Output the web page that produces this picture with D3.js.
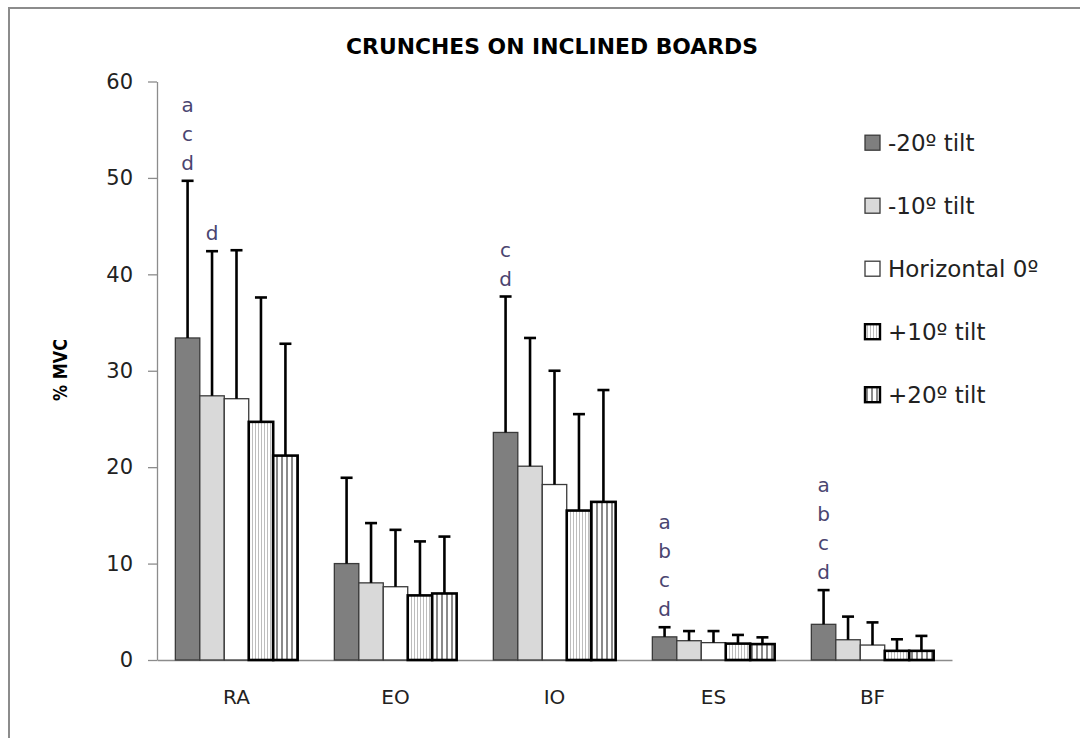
<!DOCTYPE html>
<html>
<head>
<meta charset="utf-8">
<script src="https://cdn.jsdelivr.net/npm/d3@7"></script>
<style>
  html, body { margin: 0; padding: 0; background: #fff; }
  svg { display: block; font-family: "DejaVu Sans", sans-serif; }
</style>
</head>
<body>
<svg id="chart" width="1080" height="738"></svg>
<script>
// ---- data ----
const categories = ["RA", "EO", "IO", "ES", "BF"];
const seriesNames = ["-20º tilt", "-10º tilt", "Horizontal 0º", "+10º tilt", "+20º tilt"];
// mean %MVC per series for each category
const tiltMinus20 = [33.4, 10.0, 23.6, 2.4, 3.7];
const tiltMinus10 = [27.4, 8.0, 20.1, 2.0, 2.1];
const horizontal0 = [27.1, 7.6, 18.2, 1.8, 1.55];
const tiltPlus10  = [24.7, 6.7, 15.5, 1.7, 0.95];
const tiltPlus20  = [21.2, 6.9, 16.4, 1.65, 0.95];
// standard deviations (upper error bars)
const sdMinus20 = [16.3, 8.9, 14.1, 1.0, 3.55];
const sdMinus10 = [15.0, 6.2, 13.3, 1.0, 2.4];
const sdHoriz0  = [15.4, 5.9, 11.8, 1.2, 2.35];
const sdPlus10  = [12.9, 5.6, 10.0, 0.9, 1.2];
const sdPlus20  = [11.6, 5.9, 11.6, 0.7, 1.55];
const yTicks = [0, 10, 20, 30, 40, 50, 60];
// significance letters: category, series index, letters (top to bottom)
const sigCats    = ["RA", "RA", "IO", "ES", "BF"];
const sigSeries  = [0, 1, 0, 0, 0];
const sigLetters = [["a","c","d"], ["d"], ["c","d"], ["a","b","c","d"], ["a","b","c","d"]];
const titleText = "CRUNCHES ON INCLINED BOARDS";
const yTitle = "% MVC";

const means = [tiltMinus20, tiltMinus10, horizontal0, tiltPlus10, tiltPlus20];
const sds = [sdMinus20, sdMinus10, sdHoriz0, sdPlus10, sdPlus20];

// ---- layout ----
const FONT = "'DejaVu Sans', sans-serif";
const svg = d3.select("#chart");
const plot = { left: 157, right: 952, top: 81.5, bottom: 660 };

const defs = svg.append("defs");
const p1 = defs.append("pattern").attr("id", "pLight").attr("patternUnits", "userSpaceOnUse")
  .attr("width", 3).attr("height", 10);
p1.append("rect").attr("width", 3).attr("height", 10).attr("fill", "#fff");
p1.append("rect").attr("x", 0).attr("width", 1).attr("height", 10).attr("fill", "#bdbdbd");
const p2 = defs.append("pattern").attr("id", "pDark").attr("patternUnits", "userSpaceOnUse")
  .attr("width", 5).attr("height", 10);
p2.append("rect").attr("width", 5).attr("height", 10).attr("fill", "#fff");
p2.append("rect").attr("x", 1).attr("width", 2).attr("height", 10).attr("fill", "#8a8a8a");

const styles = [
  { fill: "#7f7f7f", stroke: "#3a3a3a", sw: 1.3 },
  { fill: "#d9d9d9", stroke: "#3a3a3a", sw: 1.3 },
  { fill: "#ffffff", stroke: "#3a3a3a", sw: 1.3 },
  { fill: "url(#pLight)", stroke: "#000", sw: 2.6 },
  { fill: "url(#pDark)", stroke: "#000", sw: 2.6 }
];

// outer frame
svg.append("rect").attr("x", 9).attr("y", 8).attr("width", 1200).attr("height", 900)
  .attr("fill", "none").attr("stroke", "#8c8c8c").attr("stroke-width", 2);

const y = d3.scaleLinear().domain([0, 60]).range([plot.bottom, plot.top]);
const x0 = d3.scaleBand().domain(categories).range([plot.left, plot.right]).padding(0);
const bw = x0.bandwidth() / 6.5;
const x1 = d3.scaleBand().domain(d3.range(seriesNames.length)).range([0, bw * 5]).padding(0);
const groupOff = (x0.bandwidth() - bw * 5) / 2;

// y axis
const yAxis = d3.axisLeft(y).tickValues(yTicks).tickSize(9).tickPadding(15).tickSizeOuter(0);
const gy = svg.append("g").attr("transform", `translate(${plot.left},0)`).call(yAxis)
  .attr("font-family", FONT).attr("font-size", 21);
gy.select(".domain").attr("stroke", "#8c8c8c").attr("stroke-width", 1.3);
gy.selectAll(".tick line").attr("stroke", "#8c8c8c").attr("stroke-width", 1.3);
gy.selectAll(".tick text").attr("fill", "#222");

// x axis line
const xAxis = d3.axisBottom(x0).tickSize(0).tickPadding(30);
const gx = svg.append("g").attr("transform", `translate(0,${plot.bottom})`).call(xAxis)
  .attr("font-family", FONT).attr("font-size", 20);
gx.select(".domain").attr("stroke", "#8c8c8c").attr("stroke-width", 1.3);
gx.selectAll(".tick text").attr("fill", "#222");

// bars
const barData = [];
means.forEach((arr, s) => arr.forEach((v, c) => barData.push({ s, c, v, sd: sds[s][c] })));
const bx = d => x0(categories[d.c]) + groupOff + x1(d.s);

svg.append("g").selectAll("rect").data(barData).join("rect")
  .attr("x", bx)
  .attr("y", d => y(d.v))
  .attr("width", bw)
  .attr("height", d => y(0) - y(d.v))
  .attr("fill", d => styles[d.s].fill)
  .attr("stroke", d => styles[d.s].stroke)
  .attr("stroke-width", d => styles[d.s].sw);

// error bars
const eg = svg.append("g").attr("stroke", "#000").attr("stroke-width", 2.6);
eg.selectAll("line.v").data(barData).join("line").attr("class", "v")
  .attr("x1", d => bx(d) + bw / 2).attr("x2", d => bx(d) + bw / 2)
  .attr("y1", d => y(d.v)).attr("y2", d => y(d.v + d.sd));
eg.selectAll("line.c").data(barData).join("line").attr("class", "c")
  .attr("x1", d => bx(d) + bw / 2 - 6).attr("x2", d => bx(d) + bw / 2 + 6)
  .attr("y1", d => y(d.v + d.sd)).attr("y2", d => y(d.v + d.sd));

// significance letters
const sigG = svg.append("g").attr("font-size", 20).attr("font-family", FONT)
  .attr("fill", "#4a4570").attr("text-anchor", "middle");
sigCats.forEach((cat, i) => {
  const c = categories.indexOf(cat), s = sigSeries[i];
  const d = { c, s, v: means[s][c], sd: sds[s][c] };
  const cx = bx(d) + bw / 2;
  const baseTop = y(d.v + d.sd) - 11;
  const letters = sigLetters[i];
  letters.forEach((L, j) => {
    sigG.append("text").attr("x", cx)
      .attr("y", baseTop - (letters.length - 1 - j) * 29)
      .text(L);
  });
});

// title
svg.append("text").attr("x", 552).attr("y", 54).attr("text-anchor", "middle")
  .attr("font-family", FONT).attr("font-size", 21).attr("font-weight", "bold").attr("fill", "#000")
  .attr("textLength", 412).attr("lengthAdjust", "spacingAndGlyphs")
  .text(titleText);

// y-axis title
svg.append("text").attr("transform", "translate(67,370) rotate(-90)")
  .attr("text-anchor", "middle").attr("font-family", FONT).attr("font-size", 20).attr("font-weight", "bold")
  .attr("textLength", 62).attr("lengthAdjust", "spacingAndGlyphs")
  .attr("fill", "#000").text(yTitle);

// legend
const lg = svg.append("g").attr("font-family", FONT);
seriesNames.forEach((name, i) => {
  const cy = 142.7 + i * 63;
  lg.append("rect").attr("x", 865).attr("y", cy - 7.5).attr("width", 15).attr("height", 15)
    .attr("fill", styles[i].fill).attr("stroke", styles[i].stroke)
    .attr("stroke-width", i >= 3 ? 2.4 : 1.3);
  lg.append("text").attr("x", 888).attr("y", cy).attr("dy", "0.36em")
    .attr("font-size", 23).attr("fill", "#222").text(name);
});
</script>
</body>
</html>
